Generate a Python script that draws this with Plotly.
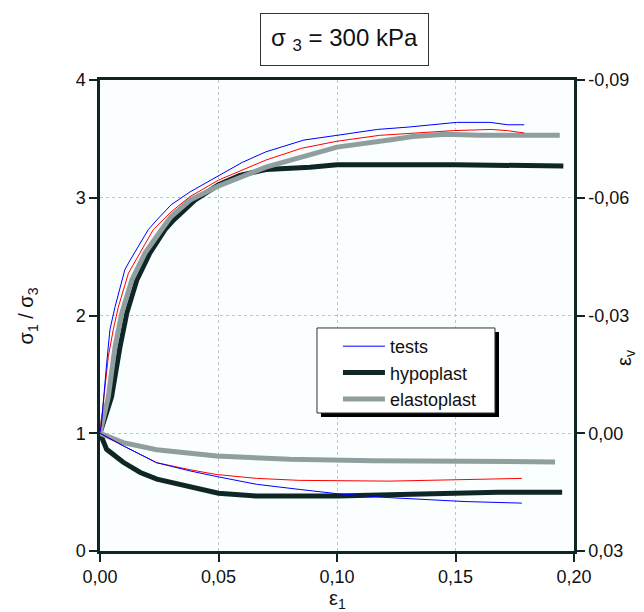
import plotly.graph_objects as go

# stress ratio sigma1/sigma3 vs axial strain eps1
tests_a_e1 = [0, 0.0007, 0.0028, 0.0042, 0.0063, 0.0105, 0.0127, 0.016, 0.0204, 0.0239, 0.030, 0.038,
              0.050, 0.060, 0.070, 0.086, 0.100, 0.117, 0.130, 0.1505, 0.1646, 0.172, 0.179]
tests_a_q = [1.0, 1.1, 1.59, 1.88, 2.07, 2.39, 2.47, 2.58, 2.73, 2.81, 2.94, 3.05,
             3.19, 3.30, 3.39, 3.49, 3.53, 3.58, 3.60, 3.64, 3.64, 3.62, 3.62]

tests_b_e1 = [0, 0.0035, 0.0056, 0.0077, 0.012, 0.0176, 0.0225, 0.030, 0.038, 0.050, 0.070, 0.085,
              0.100, 0.118, 0.135, 0.149, 0.165, 0.172, 0.179]
tests_b_q = [1.0, 1.65, 1.88, 2.07, 2.36, 2.56, 2.73, 2.88, 3.01, 3.15, 3.32, 3.42,
             3.48, 3.53, 3.55, 3.57, 3.58, 3.57, 3.55]

hypo_e1 = [0, 0.0049, 0.0084, 0.0113, 0.0155, 0.021, 0.0274, 0.031, 0.040, 0.050, 0.059, 0.070,
           0.0886, 0.100, 0.150, 0.1955]
hypo_q = [1.0, 1.31, 1.73, 2.02, 2.30, 2.53, 2.73, 2.81, 2.98, 3.11, 3.19, 3.24,
          3.26, 3.28, 3.28, 3.27]

elasto_e1 = [0, 0.0035, 0.0063, 0.0092, 0.0134, 0.019, 0.026, 0.030, 0.038, 0.050, 0.070, 0.088, 0.100,
             0.122, 0.132, 0.146, 0.160, 0.194]
elasto_q = [1.0, 1.31, 1.73, 2.02, 2.30, 2.53, 2.73, 2.84, 2.98, 3.10, 3.26, 3.36, 3.43,
            3.49, 3.52, 3.54, 3.53, 3.53]

# volumetric strain eps_v vs eps1 (right axis)
tests_a_ev_e1 = [0, 0.0098, 0.0239, 0.038, 0.049, 0.066, 0.084, 0.100, 0.122, 0.136, 0.154, 0.178]
tests_a_ev = [0, 0.0032, 0.0075, 0.0096, 0.0110, 0.0130, 0.0143, 0.0154, 0.0164, 0.0168, 0.0174, 0.0178]

tests_b_ev_e1 = [0, 0.0098, 0.0239, 0.038, 0.049, 0.066, 0.084, 0.122, 0.154, 0.178]
tests_b_ev = [0, 0.0032, 0.0075, 0.0093, 0.0105, 0.0115, 0.0120, 0.0122, 0.0118, 0.0115]

hypo_ev_e1 = [0, 0.0028, 0.0098, 0.017, 0.024, 0.038, 0.050, 0.066, 0.100, 0.136, 0.168, 0.195]
hypo_ev = [0, 0.0041, 0.0074, 0.0100, 0.0117, 0.0138, 0.0153, 0.0160, 0.0160, 0.0155, 0.0150, 0.0150]

elasto_ev_e1 = [0, 0.0098, 0.0239, 0.0492, 0.080, 0.115, 0.192]
elasto_ev = [0, 0.0024, 0.0042, 0.0058, 0.0066, 0.0070, 0.0073]

x_ticks = [0, 0.05, 0.10, 0.15, 0.20]
x_labels = ["0,00", "0,05", "0,10", "0,15", "0,20"]
y_ticks = [0, 1, 2, 3, 4]
y2_ticks = [-0.09, -0.06, -0.03, 0.0, 0.03]
y2_labels = ["-0,09", "-0,06", "-0,03", "0,00", "0,03"]

FONT = "Arial, Liberation Sans, sans-serif"
DARK = "#0f2626"
GREY = "#8f9f9f"

fig = go.Figure()

# volumetric curves (right axis)
fig.add_trace(go.Scatter(x=hypo_ev_e1, y=hypo_ev, yaxis="y2", mode="lines",
                         line=dict(color=DARK, width=5), showlegend=False))
fig.add_trace(go.Scatter(x=elasto_ev_e1, y=elasto_ev, yaxis="y2", mode="lines",
                         line=dict(color=GREY, width=5), showlegend=False))
fig.add_trace(go.Scatter(x=tests_b_ev_e1, y=tests_b_ev, yaxis="y2", mode="lines",
                         line=dict(color="#ff0000", width=1), showlegend=False))
fig.add_trace(go.Scatter(x=tests_a_ev_e1, y=tests_a_ev, yaxis="y2", mode="lines",
                         line=dict(color="#0000ff", width=1), showlegend=False))

# stress ratio curves
fig.add_trace(go.Scatter(x=hypo_e1, y=hypo_q, mode="lines", name="hypoplast",
                         line=dict(color=DARK, width=5), legendrank=2))
fig.add_trace(go.Scatter(x=elasto_e1, y=elasto_q, mode="lines", name="elastoplast",
                         line=dict(color=GREY, width=5), legendrank=3))
fig.add_trace(go.Scatter(x=tests_b_e1, y=tests_b_q, mode="lines", showlegend=False,
                         line=dict(color="#ff0000", width=1)))
fig.add_trace(go.Scatter(x=tests_a_e1, y=tests_a_q, mode="lines", name="tests",
                         line=dict(color="#0000ff", width=1), legendrank=1))

axis_common = dict(showline=True, linecolor=DARK, linewidth=2.5, ticks="outside",
                   tickcolor=DARK, tickwidth=1.5, ticklen=8, zeroline=False,
                   tickfont=dict(family=FONT, size=18, color="#111"))
grid = dict(gridcolor="#c4c4c4", griddash="dot", gridwidth=1)

# page body adds an 8px offset, so margins are shifted to compensate
fig.update_layout(
    width=644, height=612,
    margin=dict(l=92, r=78, t=72, b=69, autoexpand=False),
    paper_bgcolor="white", plot_bgcolor="#fafefe",
    font=dict(family=FONT, size=18, color="#111"),
    xaxis=dict(range=[0, 0.2], tickvals=x_ticks, ticktext=x_labels, mirror=True, **axis_common, **grid),
    yaxis=dict(range=[0, 4], tickvals=y_ticks, **axis_common, **grid),
    yaxis2=dict(range=[0.03, -0.09], overlaying="y", side="right", tickvals=y2_ticks,
                ticktext=y2_labels, showgrid=False, **axis_common),
    legend=dict(x=0.502, y=0.4735, xanchor="left", yanchor="top", bgcolor="rgba(0,0,0,0)",
                borderwidth=0, font=dict(family=FONT, size=18, color="#111"),
                itemwidth=42, tracegroupgap=0),
    showlegend=True,
)

# title box
fig.add_annotation(text="σ <sub>3</sub> = 300 kPa", xref="paper", yref="paper", x=0.516, y=1.085,
                   xanchor="center", yanchor="middle", showarrow=False,
                   font=dict(family=FONT, size=24, color="#111"),
                   bordercolor="#333", borderwidth=1, borderpad=10, bgcolor="white")

# axis titles
fig.add_annotation(text="σ<sub>1</sub> / σ<sub>3</sub>", xref="paper", yref="paper", x=-0.152, y=0.5,
                   xanchor="center", yanchor="middle", textangle=-90, showarrow=False,
                   font=dict(family=FONT, size=20, color="#111"))
fig.add_annotation(text="ε<sub>1</sub>", xref="paper", yref="paper", x=0.5, y=-0.104,
                   xanchor="center", yanchor="middle", showarrow=False,
                   font=dict(family=FONT, size=20, color="#111"))
fig.add_annotation(text="ε<sub>v</sub>", xref="paper", yref="paper", x=1.11, y=0.41,
                   xanchor="center", yanchor="middle", textangle=-90, showarrow=False,
                   font=dict(family=FONT, size=20, color="#111"))

# legend frame with drop shadow
fig.add_shape(type="rect", xref="paper", yref="paper", x0=0.4662, x1=0.8418, y0=0.2845, y1=0.465,
              fillcolor="black", line=dict(width=0), layer="above")
fig.add_shape(type="rect", xref="paper", yref="paper", x0=0.4578, x1=0.8333, y0=0.293, y1=0.4735,
              fillcolor="white", line=dict(color="#333", width=1), layer="above")

fig.write_html("out.html")
